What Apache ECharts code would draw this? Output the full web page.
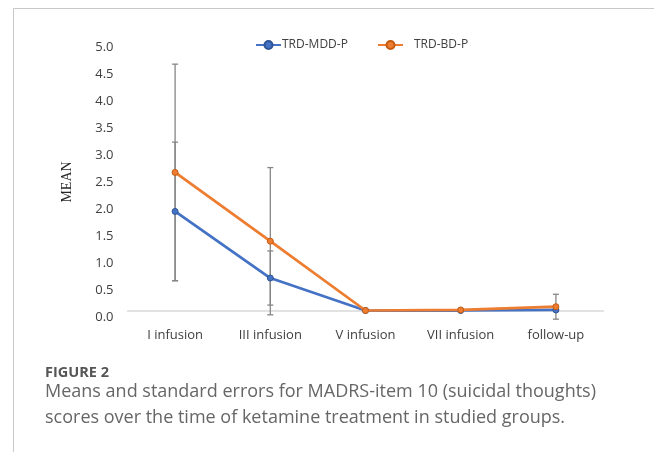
<!DOCTYPE html>
<html>
<head>
<meta charset="utf-8">
<script src="https://cdn.jsdelivr.net/npm/echarts@6/dist/echarts.min.js"></script>
<style>
html,body{margin:0;padding:0;background:#fff;}
#chart{width:654px;height:459px;}
</style>
</head>
<body>
<div id="chart"></div>
<script>
// ---- data ----
const categories = ['I infusion', 'III infusion', 'V infusion', 'VII infusion', 'follow-up'];
const mddName = 'TRD-MDD-P';
const bdName = 'TRD-BD-P';
const mddMean = [1.83, 0.60, 0.00, 0.00, 0.01];
const mddErr  = [1.28, 0.50, 0.00, 0.00, 0.00];
const bdMean  = [2.55, 1.28, 0.00, 0.01, 0.07];
const bdErr   = [2.00, 1.36, 0.00, 0.00, 0.23];
const yTicks  = ['0.0','0.5','1.0','1.5','2.0','2.5','3.0','3.5','4.0','4.5','5.0'];
const yAxisTitle = 'MEAN';
const figLabel = 'FIGURE 2';
const captionLines = [
  'Means and standard errors for MADRS-item 10 (suicidal thoughts)',
  'scores over the time of ketamine treatment in studied groups.'
];

// ---- build ----
function errData(means, errs) {
  return means.map((m, i) => [i, m - errs[i], m + errs[i]]);
}
function errRender(params, api) {
  const x = api.value(0), lo = api.value(1), hi = api.value(2);
  if (hi - lo <= 0) return null;
  const a = api.coord([x, hi]);
  const b = api.coord([x, lo]);
  const w = 3;
  const st = { stroke: '#868686', lineWidth: 1.3 };
  return {
    type: 'group',
    children: [
      { type: 'line', shape: { x1: a[0], y1: a[1], x2: b[0], y2: b[1] }, style: st },
      { type: 'line', shape: { x1: a[0] - w, y1: a[1], x2: a[0] + w, y2: a[1] }, style: st },
      { type: 'line', shape: { x1: b[0] - w, y1: b[1], x2: b[0] + w, y2: b[1] }, style: st }
    ]
  };
}

const chart = echarts.init(document.getElementById('chart'), null, { renderer: 'canvas' });
const baseFont = '"Open Sans", "DejaVu Sans", sans-serif';

chart.setOption({
  animation: false,
  backgroundColor: '#ffffff',
  textStyle: { fontFamily: baseFont },
  legend: [
    {
      data: [mddName], left: 255, top: 39, padding: 0, itemWidth: 25, itemHeight: 10,
      textStyle: { fontSize: 12, color: '#404040', fontFamily: baseFont, padding: [0, 0, 0, -4] }
    },
    {
      data: [bdName], left: 377, top: 39, padding: 0, itemWidth: 25, itemHeight: 10,
      textStyle: { fontSize: 12, color: '#404040', fontFamily: baseFont, padding: [0, 0, 0, 6] }
    }
  ],
  grid: { left: 127.5, top: 39.8, width: 476, height: 270.7, containLabel: false },
  xAxis: {
    type: 'category',
    data: categories,
    boundaryGap: true,
    axisLine: { show: true, lineStyle: { color: '#d9d9d9', width: 1.5 } },
    axisTick: { show: false },
    axisLabel: { margin: 18, fontSize: 13, color: '#404040', fontFamily: baseFont },
    splitLine: { show: false }
  },
  yAxis: {
    type: 'value',
    min: 0, max: 5, interval: 0.5,
    axisLine: { show: false },
    axisTick: { show: false },
    splitLine: { show: false },
    axisLabel: {
      margin: 14, fontSize: 13, color: '#404040', fontFamily: baseFont,
      verticalAlign: 'top', lineHeight: 14,
      formatter: (v) => yTicks[Math.round(v / 0.5)]
    }
  },
  graphic: [
    { type: 'line', shape: { x1: 13.5, y1: 8.5, x2: 654, y2: 8.5 }, style: { stroke: '#c8c8c8', lineWidth: 1 }, silent: true },
    { type: 'line', shape: { x1: 13.5, y1: 8.5, x2: 13.5, y2: 452 }, style: { stroke: '#c8c8c8', lineWidth: 1 }, silent: true },
    { type: 'text', x: 67, y: 182, rotation: Math.PI / 2,
      style: { text: yAxisTitle, font: '14px "Liberation Serif", "DejaVu Serif", serif', fill: '#262626', align: 'center', verticalAlign: 'middle' } },
    { type: 'text', x: 45, y: 373,
      style: { text: figLabel, font: 'bold 14.5px "Open Sans", sans-serif', fill: '#555555', align: 'left', verticalAlign: 'middle' } },
    { type: 'text', x: 45, y: 391.5,
      style: { text: captionLines[0], font: '18px "Open Sans", sans-serif', fill: '#666666', align: 'left', verticalAlign: 'middle' } },
    { type: 'text', x: 45, y: 417.5,
      style: { text: captionLines[1], font: '18px "Open Sans", sans-serif', fill: '#666666', align: 'left', verticalAlign: 'middle' } }
  ],
  series: [
    {
      type: 'custom', renderItem: errRender, data: errData(mddMean, mddErr),
      encode: { x: 0, y: [1, 2] }, z: 1, silent: true
    },
    {
      type: 'custom', renderItem: errRender, data: errData(bdMean, bdErr),
      encode: { x: 0, y: [1, 2] }, z: 1, silent: true
    },
    {
      name: mddName, type: 'line', data: mddMean, z: 3,
      symbol: 'circle', symbolSize: 6,
      lineStyle: { color: '#4472C4', width: 2.75 },
      itemStyle: { color: '#4472C4', borderColor: '#2f5597', borderWidth: 1 }
    },
    {
      name: bdName, type: 'line', data: bdMean, z: 4,
      symbol: 'circle', symbolSize: 6,
      lineStyle: { color: '#ED7D31', width: 2.75 },
      itemStyle: { color: '#ED7D31', borderColor: '#c55a11', borderWidth: 1 }
    }
  ]
});
</script>
</body>
</html>
